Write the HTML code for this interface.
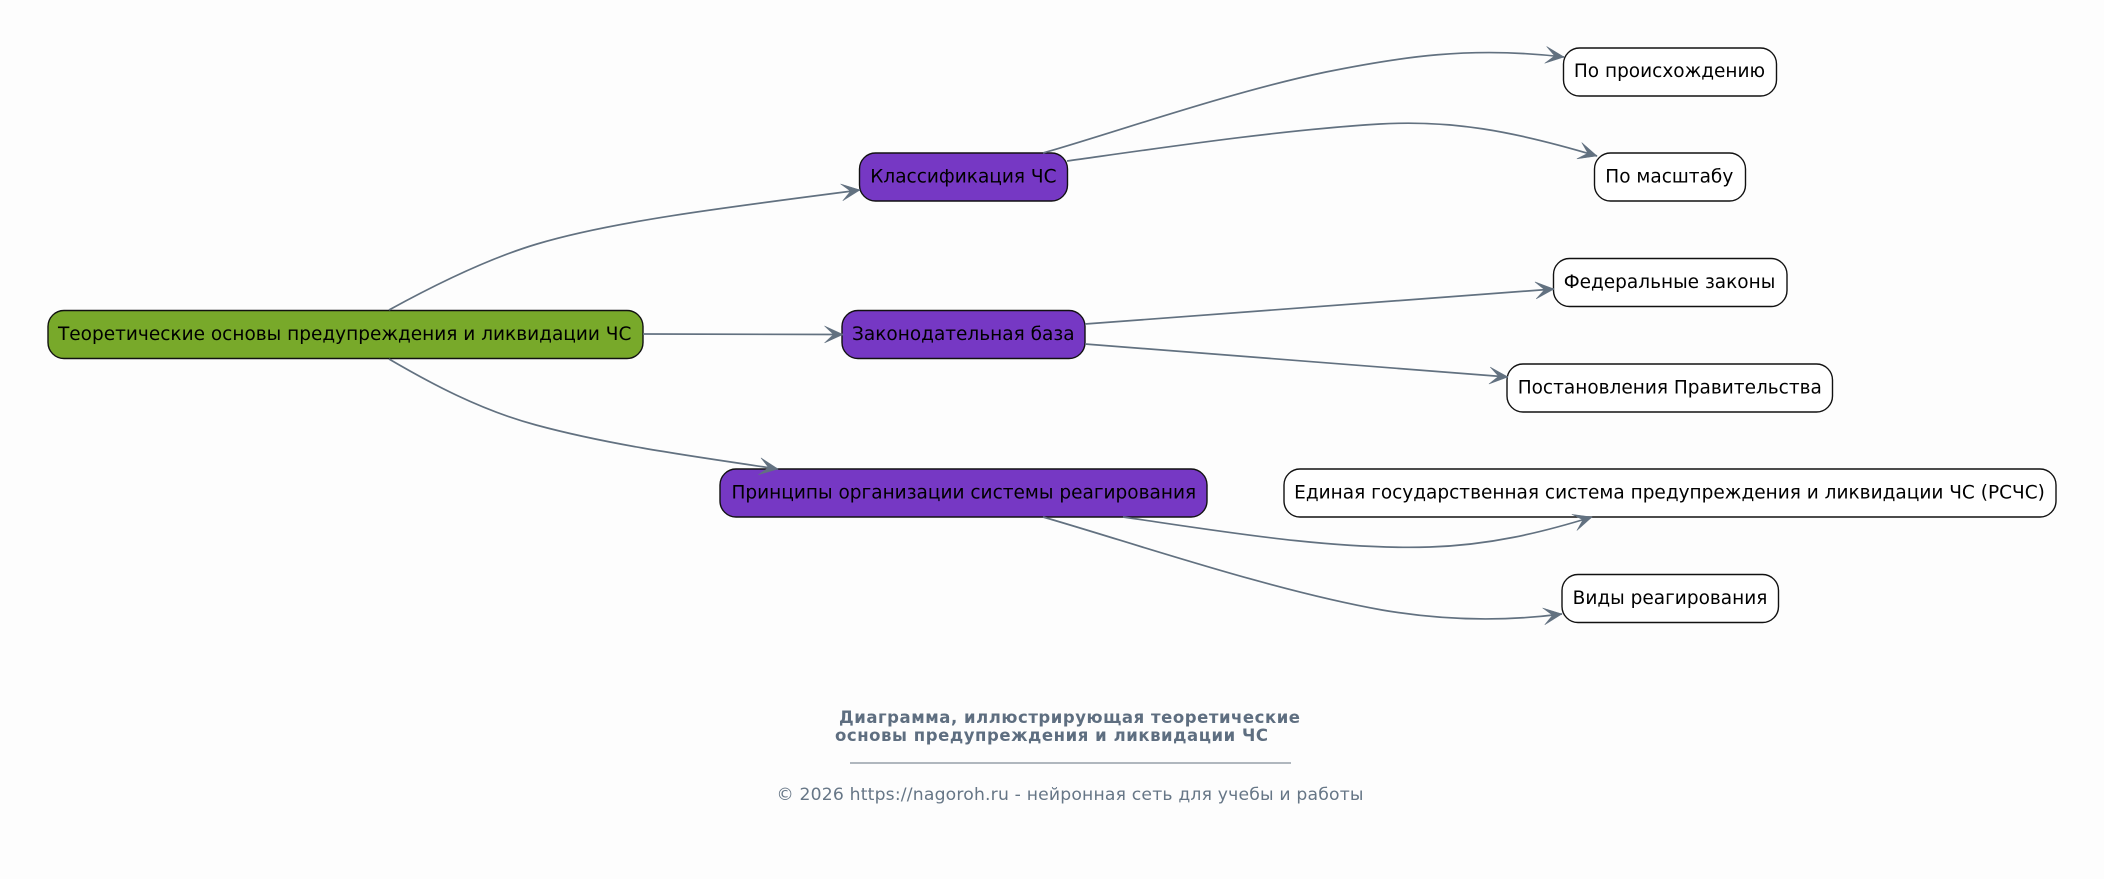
<!DOCTYPE html>
<html lang="ru">
<head>
<meta charset="utf-8">
<title>Диаграмма</title>
<style>
html,body{margin:0;padding:0;background:#fdfdfd;width:2104px;height:879px;overflow:hidden}
svg{display:block}
text{font-family:"DejaVu Sans",sans-serif}
.n{font-size:18.5px;fill:#000;text-anchor:middle}
.e{fill:none;stroke:#627180;stroke-width:1.7;marker-end:url(#a)}
.b{stroke:#111;stroke-width:1.4}
</style>
</head>
<body>
<svg width="2104" height="879" viewBox="0 0 2104 879" xmlns="http://www.w3.org/2000/svg">
<defs>
<marker id="a" markerUnits="userSpaceOnUse" markerWidth="24" markerHeight="22" refX="19" refY="10" orient="auto">
<path d="M19,10 L0.5,1.5 L9.5,10 L0.5,18.5 Z" fill="#627180" stroke="#627180" stroke-width="0.5"/>
</marker>
</defs>
<rect width="2104" height="879" fill="#fdfdfd"/>

<rect class="b" x="48" y="310.5" width="595" height="48" rx="16" fill="#78a92a"/>
<rect class="b" x="859.5" y="153" width="208" height="48" rx="16" fill="#7638c4"/>
<rect class="b" x="842" y="310.5" width="243" height="48" rx="16" fill="#7638c4"/>
<rect class="b" x="720" y="469" width="487" height="48" rx="16" fill="#7638c4"/>
<rect class="b" x="1563.5" y="48" width="213" height="48" rx="16" fill="#fff"/>
<rect class="b" x="1594.5" y="153" width="151" height="48" rx="16" fill="#fff"/>
<rect class="b" x="1553.5" y="258.5" width="233.5" height="48" rx="16" fill="#fff"/>
<rect class="b" x="1507" y="364" width="325.5" height="48" rx="16" fill="#fff"/>
<rect class="b" x="1284" y="469" width="772" height="48" rx="16" fill="#fff"/>
<rect class="b" x="1562" y="574.5" width="216.5" height="48" rx="16" fill="#fff"/>

<path class="e" d="M389,310 C440,282 490,258 537,244 C610,222 720,208 860,190"/>
<path class="e" d="M643,334 L843,334.5"/>
<path class="e" d="M389,359 C430,383 480,410 536,425 C610,445 690,456 778,469"/>
<path class="e" d="M1043,153 C1110,134 1230,92 1326,72 C1400,57 1470,46 1564,57"/>
<path class="e" d="M1067,161 C1160,148 1280,130 1380,124 C1450,120 1510,130 1597,156"/>
<path class="e" d="M1085,324 L1554,289"/>
<path class="e" d="M1085,344 L1508,377"/>
<path class="e" d="M1123,517 C1220,531 1330,550 1430,547 C1490,545 1540,533 1592,517"/>
<path class="e" d="M1043,517 C1130,542 1270,590 1382,610 C1440,620 1500,622 1562,614"/>

<text class="n" x="344.7" y="340">Теоретические основы предупреждения и ликвидации ЧС</text>
<text class="n" x="963.4" y="182.5">Классификация ЧС</text>
<text class="n" x="963.3" y="340">Законодательная база</text>
<text class="n" x="963.8" y="498.5">Принципы организации системы реагирования</text>
<text class="n" x="1669.5" y="77">По происхождению</text>
<text class="n" x="1669.3" y="182.5">По масштабу</text>
<text class="n" x="1669.5" y="288">Федеральные законы</text>
<text class="n" x="1669.8" y="393.5">Постановления Правительства</text>
<text class="n" x="1669.5" y="498.5">Единая государственная система предупреждения и ликвидации ЧС (РСЧС)</text>
<text class="n" x="1670" y="604">Виды реагирования</text>

<text x="839" y="723" font-size="16.5" font-weight="700" fill="#5e6e80" textLength="461">Диаграмма, иллюстрирующая теоретические</text>
<text x="835" y="741" font-size="16.5" font-weight="700" fill="#5e6e80" textLength="433">основы предупреждения и ликвидации ЧС</text>
<line x1="850" y1="763" x2="1291" y2="763" stroke="#627180" stroke-width="1"/>
<text x="776.5" y="800" font-size="17.2" fill="#667686" textLength="587">© 2026 https://nagoroh.ru - нейронная сеть для учебы и работы</text>
</svg>
</body>
</html>
